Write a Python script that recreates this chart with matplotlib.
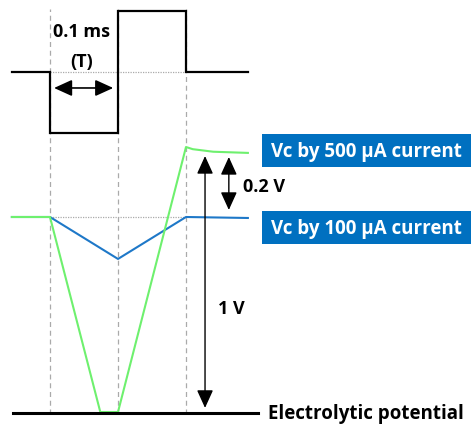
import matplotlib.pyplot as plt
from matplotlib.patches import Rectangle

plt.rcParams['font.family'] = ['Open Sans', 'DejaVu Sans']

# time in units of T (0.1 ms)
edges = [0, 1, 2]

# drive pulse (normalised)
sq_t = [-0.56, 0, 0, 1, 1, 2, 2, 2.91]
sq_v = [0, 0, -1, -1, 1, 1, 0, 0]

# electrode voltage (schematic, electrolytic potential = 0)
blue_t = [-0.56, 0, 1, 2, 2.91]
blue_v = [1.0, 1.0, 0.786, 1.0, 0.995]
green_t = [-0.56, 0, 0.74, 1.0, 2.0, 2.1, 2.4, 2.91]
green_v = [1.0, 1.0, 0.005, 0.005, 1.357, 1.346, 1.333, 1.327]
base_t = [-0.544, 3.06]
base_v = [0, 0]

labels = ['Vc by 500 µA current', 'Vc by 100 µA current']
label_y = [1.339, 0.946]

BOX = '#0070C0'
BLUE = '#1E78C8'
GREEN = '#6EF06E'
XLIM = (-0.735, 6.191)
FS = 13.5

fig = plt.figure(figsize=(4.71, 4.27), dpi=100)

# background axes for dashed guides
bg = fig.add_axes([0, 0, 1, 1])
bg.set_xlim(*XLIM)
bg.set_ylim(0, 1)
bg.axis('off')
for t in edges:
    bg.axvline(t, ymin=12 / 427, ymax=417 / 427, color='#aaaaaa', lw=0.9, ls=(0, (4, 3)))

# top: square wave
top = fig.add_axes([0, (427 - 146) / 427, 1, 146 / 427])
top.set_xlim(*XLIM)
top.set_ylim(-1.197, 1.197)
top.axis('off')
top.plot([0, 2], [0, 0], color='#aaaaaa', lw=0.9, ls=(0, (1, 1)))
top.plot(sq_t, sq_v, color='black', lw=1.6, solid_joinstyle='miter')
top.annotate('', xy=(0.06, -0.262), xytext=(0.93, -0.262),
             arrowprops=dict(arrowstyle='<|-|>,head_length=1.1,head_width=0.5',
                             color='black', lw=1.2, shrinkA=0, shrinkB=0))
top.text(0.47, 0.672, '0.1 ms', ha='center', va='center', fontsize=FS - 0.5, fontweight='bold')
top.text(0.47, 0.18, '(T)', ha='center', va='center', fontsize=FS - 0.5, fontweight='bold')

# bottom: voltages
bot = fig.add_axes([0, 0, 1, 327 / 427])
bot.set_xlim(*XLIM)
bot.set_ylim(-0.0663, 1.602)
bot.axis('off')
bot.plot([0, 2], [1.0, 1.0], color='#aaaaaa', lw=0.9, ls=(0, (1, 1)))
bot.plot(blue_t, blue_v, color=BLUE, lw=1.5)
bot.plot(green_t, green_v, color=GREEN, lw=1.5)
bot.plot(base_t, base_v, color='black', lw=2.2)

bot.annotate('', xy=(2.28, 0.026), xytext=(2.28, 1.311),
             arrowprops=dict(arrowstyle='<|-|>,head_length=1.1,head_width=0.5',
                             color='black', lw=1.0, shrinkA=0, shrinkB=0))
bot.annotate('', xy=(2.63, 1.036), xytext=(2.63, 1.306),
             arrowprops=dict(arrowstyle='<|-|>,head_length=1.1,head_width=0.5',
                             color='black', lw=1.0, shrinkA=0, shrinkB=0))
bot.text(2.84, 1.158, '0.2 V', ha='left', va='center', fontsize=FS - 0.5, fontweight='bold')
bot.text(2.66, 0.536, '1 V', ha='center', va='center', fontsize=FS - 0.5, fontweight='bold')

for lab, y in zip(labels, label_y):
    bot.add_patch(Rectangle((3.12, y - 0.084), 3.1, 0.168, facecolor=BOX,
                            edgecolor='none', clip_on=False))
    bot.text(4.66, y, lab, ha='center', va='center', color='white',
             fontsize=FS, fontweight='bold')

bot.text(3.21, 0, 'Electrolytic potential', ha='left', va='center',
         fontsize=FS, fontweight='bold')

fig.savefig('out.png', dpi=100)
